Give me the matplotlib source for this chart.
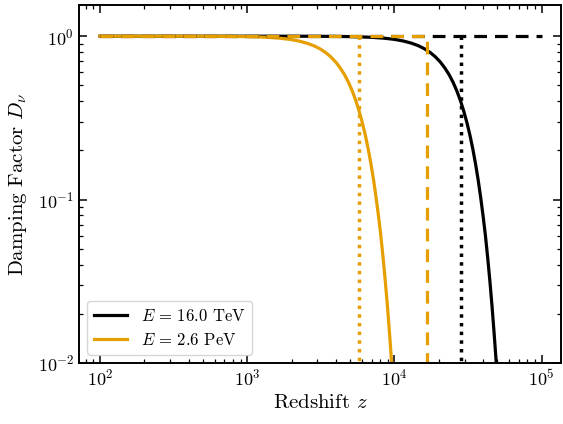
import matplotlib
matplotlib.use("Agg")
import matplotlib.pyplot as plt

plt.rcParams['font.family'] = 'serif'
plt.rcParams['font.serif'] = ['cmr10']
plt.rcParams['mathtext.fontset'] = 'cm'
plt.rcParams['axes.unicode_minus'] = False
plt.rcParams['axes.formatter.use_mathtext'] = True
plt.rcParams['axes.linewidth'] = 1.4

orange = '#E69F00'

# E = 16.0 TeV
z_black = [100, 1000, 2000, 3000, 4000, 5000, 6000, 7000, 8500, 10000, 11500, 13000,
           14500, 16000, 17500, 19000, 20500, 22000, 23500, 25000, 26500, 28000,
           29500, 31000, 32500, 34000, 35500, 37000, 38500, 40000, 41500, 43000,
           44500, 46000, 47500, 49000, 50500, 52000]
d_black = [1.0, 0.99994, 0.9996, 0.9986, 0.9968, 0.994, 0.9897, 0.984, 0.972, 0.956,
           0.934, 0.907, 0.875, 0.837, 0.794, 0.746, 0.694, 0.638, 0.581, 0.522,
           0.463, 0.405, 0.349, 0.297, 0.249, 0.205, 0.166, 0.132, 0.103, 0.079,
           0.0597, 0.0436, 0.0314, 0.0221, 0.0152, 0.0103, 0.0068, 0.0043]

# E = 2.6 PeV
z_orange = [100, 195, 390, 584, 779, 974, 1169, 1364, 1656, 1948, 2240, 2532,
            2825, 3117, 3409, 3701, 3993, 4286, 4578, 4870, 5162, 5454,
            5746, 6039, 6331, 6623, 6915, 7208, 7500, 7792, 8084, 8377,
            8669, 8961, 9253, 9545, 9838, 10130]
d_orange = d_black

# characteristic redshifts
z_dash_black = 1e5
z_dash_orange = 1.65e4
z_dot_black = 2.85e4
z_dot_orange = 5.7e3

fig = plt.figure(figsize=(5.63, 4.24), dpi=100)
ax = fig.add_axes([0.1403, 0.144, 0.856, 0.844])

ax.plot(z_black, d_black, color='black', lw=2.3, label=r'$E\,=\,16.0$ TeV')
ax.plot(z_orange, d_orange, color=orange, lw=2.3, label=r'$E\,=\,2.6$ PeV')

ax.plot([100, z_dash_black], [1, 1], color='black', lw=2.3, ls=(0, (4, 2.5)))
ax.plot([100, z_dash_orange, z_dash_orange], [1, 1, 1e-3], color=orange, lw=2.3,
        ls=(0, (4, 2.5)))
ax.plot([z_dot_black, z_dot_black], [1, 1e-3], color='black', lw=2.5, ls=(0, (1, 1.5)))
ax.plot([z_dot_orange, z_dot_orange], [1, 1e-3], color=orange, lw=2.5, ls=(0, (1, 1.5)))

ax.set_xscale('log')
ax.set_yscale('log')
ax.set_xlim(72, 1.35e5)
ax.set_ylim(1e-2, 1.55)

ax.set_xlabel(r'Redshift $z$', fontsize=15)
ax.set_ylabel(r'Damping Factor $D_\nu$', fontsize=15, labelpad=6)
ax.tick_params(which='both', direction='in', top=True, right=True, labelsize=13)
ax.tick_params(which='major', length=6, width=1.1)
ax.tick_params(which='minor', length=3, width=0.9)

ax.legend(loc='lower left', fontsize=12)

fig.savefig('out.png', dpi=100)
